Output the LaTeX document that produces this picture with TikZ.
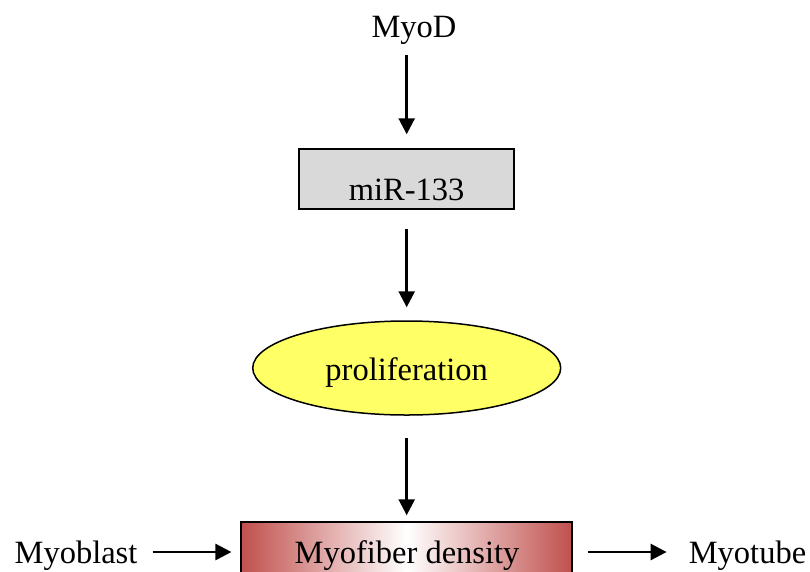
\documentclass[tikz,border=0pt]{standalone}
\usepackage{fontspec}
\setmainfont{Liberation Serif}
\usetikzlibrary{arrows.meta,shapes.geometric}
\definecolor{boxgray}{HTML}{D9D9D9}
\definecolor{elyellow}{HTML}{FFFF66}
\definecolor{densred}{HTML}{C0504D}
\tikzset{
  lbl/.style={inner sep=0pt, anchor=base, font=\fontsize{32.5}{39}\selectfont},
  arr/.style={line width=2.6pt, -{Triangle[length=16pt,width=16pt]}},
  framed/.style={draw=black, line width=1.5pt, inner sep=0pt, font=\fontsize{32.5}{39}\selectfont}
}
\begin{document}
\begin{tikzpicture}[x=1pt,y=-1pt]
\useasboundingbox (0,0) rectangle (810,571);
\clip (0,0) rectangle (810,571);
\node[lbl] (myod) at (414,37) {MyoD};
\node[framed, fill=boxgray, minimum width=215pt, minimum height=60pt, text height=44pt, text depth=2pt] (mir) at (406.7,179) {miR-133};
\node[framed, ellipse, fill=elyellow, minimum width=308pt, minimum height=94pt, text height=26pt, text depth=2pt] (prolif) at (406.7,368) {proliferation};
\node[framed, minimum width=331pt, minimum height=60pt, left color=densred, right color=densred, middle color=white] (dens) at (406.7,552) {};
\node[lbl] (denstxt) at (407,563) {Myofiber density};
\node[lbl] (myoblast) at (76,563) {Myoblast};
\node[lbl] (myotube) at (747.5,563) {Myotube};
\draw[arr, shorten <=11pt, shorten >=14pt] (myod.south -| mir.north) -- (mir.north);
\draw[arr, shorten <=19pt, shorten >=13pt] (mir.south) -- (prolif.north);
\draw[arr, shorten <=22pt, shorten >=6pt] (prolif.south) -- (dens.north);
\draw[arr, shorten <=15pt, shorten >=9pt] (myoblast.east |- dens.west) -- (dens.west);
\draw[arr, shorten <=15pt, shorten >=22pt] (dens.east) -- (myotube.west |- dens.east);
\end{tikzpicture}
\end{document}
